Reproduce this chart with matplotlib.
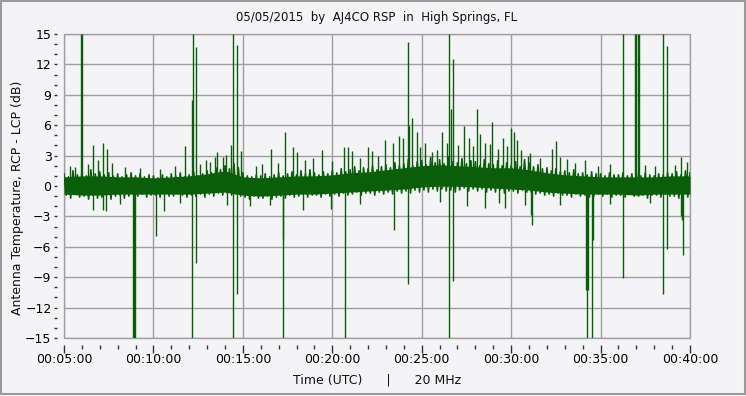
import numpy as np
import matplotlib
matplotlib.use("Agg")
import matplotlib.pyplot as plt
from matplotlib.ticker import MultipleLocator, FuncFormatter
from matplotlib.patches import Rectangle

# Ragged edge of the dense noise, sampled every 15 s from 00:05:00 to 00:40:00 (minutes)
band_t = np.arange(5.0, 40.001, 0.25)
band_hi = [
    1.2, 0.9, 1.5, 1.1,  1.3, 1.0, 1.6, 1.2,  1.4, 1.1, 1.3, 1.0,  1.2, 0.9, 1.1, 1.3,
    1.0, 1.2, 0.9, 1.1,  1.0, 0.8, 1.1, 0.9,  1.2, 1.0, 1.3, 0.9,  1.1, 1.4, 1.0, 1.2,
    1.5, 1.3, 1.8, 1.6,  2.0, 1.7, 2.2, 1.8,  1.3, 1.0, 0.9, 1.1,  1.0, 1.2, 0.9, 1.1,
    1.3, 1.0, 1.2, 1.4,  1.1, 1.5, 1.2, 1.6,  1.3, 1.1, 1.4, 1.2,  1.5, 1.3, 1.7, 1.4,
    1.6, 1.9, 1.5, 1.8,  1.7, 2.0, 1.6, 1.9,  2.1, 1.8, 2.3, 2.0,  2.2, 2.6, 2.0, 2.4,
    2.5, 2.1, 2.8, 2.3,  2.6, 2.2, 2.9, 2.4,  2.3, 2.7, 2.2, 2.5,  2.4, 2.0, 2.6, 2.2,
    2.1, 2.5, 2.0, 2.3,  2.0, 2.4, 1.9, 2.6,  2.3, 1.9, 2.1, 1.7,  1.8, 1.5, 1.7, 1.4,
    1.5, 1.3, 1.6, 1.2,  1.3, 1.1, 1.4, 1.2,  1.2, 1.0, 1.3, 1.1,  1.1, 1.3, 1.0, 1.2,
    1.2, 1.0, 1.3, 1.1,  1.0, 1.2, 1.1, 1.3,  1.2, 1.4, 1.1, 1.5,  1.3,
]
band_lo = [
    -0.9, -1.2, -0.8, -1.1,  -1.0, -1.3, -0.9, -1.2,  -1.1, -0.9, -1.3, -1.0,  -0.9, -1.2, -1.0, -0.8,
    -1.0, -0.8, -1.1, -0.9,  -0.9, -1.1, -0.8, -1.0,  -1.0, -0.8, -0.9, -1.1,  -0.9, -1.0, -0.8, -1.1,
    -0.8, -1.0, -0.7, -0.9,  -0.7, -0.9, -0.8, -1.0,  -1.1, -1.3, -1.0, -1.2,  -1.2, -1.0, -1.3, -1.1,
    -1.0, -1.2, -0.9, -1.1,  -1.0, -0.8, -1.1, -0.9,  -0.9, -1.1, -0.8, -1.0,  -0.8, -1.0, -0.7, -0.9,
    -0.8, -0.6, -0.9, -0.7,  -0.7, -0.9, -0.6, -0.8,  -0.6, -0.8, -0.5, -0.7,  -0.5, -0.7, -0.4, -0.6,
    -0.4, -0.6, -0.3, -0.5,  -0.3, -0.5, -0.4, -0.6,  -0.4, -0.2, -0.5, -0.3,  -0.5, -0.3, -0.6, -0.4,
    -0.6, -0.4, -0.7, -0.5,  -0.5, -0.7, -0.4, -0.6,  -0.6, -0.8, -0.7, -0.9,  -0.8, -1.0, -0.7, -0.9,
    -0.9, -1.1, -0.8, -1.0,  -0.9, -1.1, -1.0, -0.8,  -1.0, -0.8, -1.1, -0.9,  -0.9, -1.1, -0.8, -1.0,
    -1.0, -0.9, -1.2, -0.9,  -0.9, -1.1, -0.8, -1.0,  -1.0, -1.2, -0.9, -1.1,  -1.0,
]

# Solid core of the noise, one value per minute (00:05 .. 00:40)
core_t = np.arange(5, 41)
core_hi = [0.9, 1.0, 1.0, 0.9, 0.9, 0.8, 0.9, 1.0, 1.2, 1.5, 0.9, 0.8,
           0.9, 1.0, 1.0, 1.1, 1.3, 1.4, 1.6, 1.8, 2.0, 2.1, 2.0, 1.9,
           1.8, 1.8, 1.6, 1.3, 1.1, 1.0, 0.9, 0.9, 0.9, 0.9, 1.0, 1.0]
core_lo = [-0.8, -0.9, -0.9, -0.8, -0.8, -0.8, -0.8, -0.8, -0.7, -0.6, -0.9, -1.0,
           -0.9, -0.8, -0.8, -0.7, -0.6, -0.5, -0.4, -0.3, -0.1, 0.0, 0.0, -0.1,
           -0.2, -0.3, -0.4, -0.6, -0.7, -0.8, -0.8, -0.8, -0.9, -0.8, -0.8, -0.8]

# Individual spikes (minutes, dB)
spike_t = [
    5.93, 5.98, 12.17, 12.21, 12.38, 14.45, 14.67, 24.23, 26.53, 26.75,
    36.25, 36.92, 37.00, 37.08, 37.15, 38.49, 38.71,
    17.36, 24.46, 26.64, 28.09, 28.93, 29.99, 30.16, 32.51,
    6.62, 7.18, 7.40, 11.77, 13.44, 13.55, 13.89, 14.34, 14.90, 16.57,
    17.80, 18.03, 19.42, 20.65, 20.88, 21.10, 22.00, 22.22, 22.95, 23.39,
    23.73, 23.95, 24.29, 24.74, 25.57, 26.13, 26.41, 27.36, 27.64, 28.26,
    28.54, 29.26, 29.54, 30.33, 30.94, 31.05, 32.28, 33.12, 34.13, 39.50,
    5.34, 5.61, 6.34, 6.90, 7.68, 8.41, 9.25, 10.37, 11.21, 12.60,
    12.94, 13.16, 14.06, 15.73, 16.07, 16.96, 18.47, 18.92, 19.98, 21.55,
    22.56, 24.90, 25.18, 25.85, 27.03, 27.87, 28.82, 29.77, 30.55, 31.61,
    32.73, 33.57, 34.86, 35.53, 37.48, 38.04, 39.16, 39.83,
    8.86, 8.91, 8.97, 10.14, 12.16, 12.38, 14.45, 14.67, 17.24, 17.27,
    20.71, 23.45, 24.23, 26.53, 26.75, 34.19, 34.24, 34.30, 34.52, 34.58,
    36.25, 38.49, 38.71, 39.50, 39.55, 39.61, 31.11, 31.17,
    6.62, 7.18, 7.35, 10.59, 14.11, 18.36, 19.93, 27.53, 28.54, 29.66,
    29.32, 30.77, 8.13, 11.49, 15.40, 16.52, 21.55, 26.02, 32.73, 35.53, 37.76,
]
spike_v = [
    15, 15, 8.5, 15, 13.7, 15, 13.9, 14.2, 15, 12.5,
    15, 15, 15, 15, 15, 15, 13.8,
    5.3, 6.7, 7.6, 7.6, 6.3, 5.7, 5.3, 4.4,
    4.0, 4.2, 3.7, 3.9, 2.9, 3.4, 2.9, 4.0, 3.5, 3.7,
    3.8, 3.4, 3.6, 3.8, 3.8, 3.5, 3.8, 3.5, 4.5, 4.2,
    4.9, 4.7, 5.9, 5.3, 3.4, 5.3, 4.2, 5.9, 4.7, 5.1,
    4.2, 3.7, 4.7, 4.5, 3.0, 3.3, 3.7, 2.7, 2.6, 2.9,
    2.0, 1.9, 2.2, 2.6, 2.3, 1.9, 1.8, 1.7, 2.0, 2.2,
    2.6, 2.4, 3.1, 2.0, 2.2, 2.3, 2.6, 2.8, 2.5, 2.8,
    3.0, 3.8, 4.2, 3.6, 4.0, 3.9, 4.1, 3.9, 3.6, 2.8,
    2.9, 2.3, 2.0, 2.2, 2.1, 2.0, 2.1, 2.4,
    -15, -15, -15, -4.9, -15, -7.6, -15, -10.7, -15, -5.2,
    -15, -4.3, -9.7, -15, -9.4, -10.3, -15, -10.3, -15, -5.3,
    -9.1, -10.7, -6.2, -3.0, -3.4, -6.8, -2.9, -3.8,
    -2.4, -2.4, -2.5, -2.5, -1.9, -2.4, -2.3, -2.0, -2.2, -2.2,
    -1.7, -1.9, -1.8, -1.7, -2.0, -1.9, -1.8, -1.6, -1.9, -1.8, -1.7,
]

green = "#0a5e0a"
bg = "#f4f4f6"

fig = plt.figure(figsize=(7.46, 3.96), dpi=100, facecolor=bg)
ax = fig.add_axes([64 / 746, 58 / 396, 626 / 746, 304 / 396])
ax.set_facecolor(bg)

# solid core, then the ragged edge as a zig-zag trace, then the spikes
ax.fill_between(core_t, core_lo, core_hi, color=green, lw=0)
zig_t = np.column_stack([band_t, band_t + 0.125]).ravel()[:-1]
zig_v = np.column_stack([band_hi, band_lo]).ravel()[:-1]
ax.plot(zig_t, zig_v, color=green, lw=1.2)
ax.vlines(spike_t, 0, spike_v, color=green, lw=1.0)

ax.set_xlim(5, 40)
ax.set_ylim(-15, 15)

# Grid and frame
ax.xaxis.set_major_locator(MultipleLocator(5))
ax.xaxis.set_minor_locator(MultipleLocator(1))
ax.yaxis.set_major_locator(MultipleLocator(3))
ax.yaxis.set_minor_locator(MultipleLocator(1))
ax.grid(True, which="major", color="#a0a0a0", lw=1.0)
ax.set_axisbelow(True)
for s in ["top", "right"]:
    ax.spines[s].set_visible(False)
for s in ["left", "bottom"]:
    ax.spines[s].set_position(("outward", 5))
    ax.spines[s].set_color("none")
ax.add_patch(Rectangle((0, 0), 1, 1, transform=ax.transAxes, fill=False,
                       edgecolor="#a0a0a0", lw=1.0, clip_on=False, zorder=0.5))

ax.xaxis.set_major_formatter(FuncFormatter(lambda v, p: "00:%02d:00" % round(v)))
ax.tick_params(axis="x", which="major", length=6, width=1, color="#333333",
               labelsize=9, pad=0)
ax.tick_params(axis="x", which="minor", length=3, width=1, color="#333333")
ax.tick_params(axis="y", which="both", length=2, width=1, color="#333333",
               labelsize=9, pad=2)

fig.text(0.505, 0.955, "05/05/2015  by  AJ4CO RSP  in  High Springs, FL",
         ha="center", va="center", fontsize=8.5, color="#111111")
fig.text(0.505, 0.04, "Time (UTC)      |      20 MHz",
         ha="center", va="center", fontsize=9, color="#111111")
fig.text(0.024, 0.5, "Antenna Temperature, RCP - LCP (dB)", rotation=90,
         ha="center", va="center", fontsize=9, color="#111111")

# outer border
fig.patches.append(Rectangle((0.001, 0.004), 0.997, 0.993, transform=fig.transFigure,
                             fill=False, edgecolor="#9a9a9a", lw=1.5))

fig.savefig("out.png", dpi=100, facecolor=bg)
